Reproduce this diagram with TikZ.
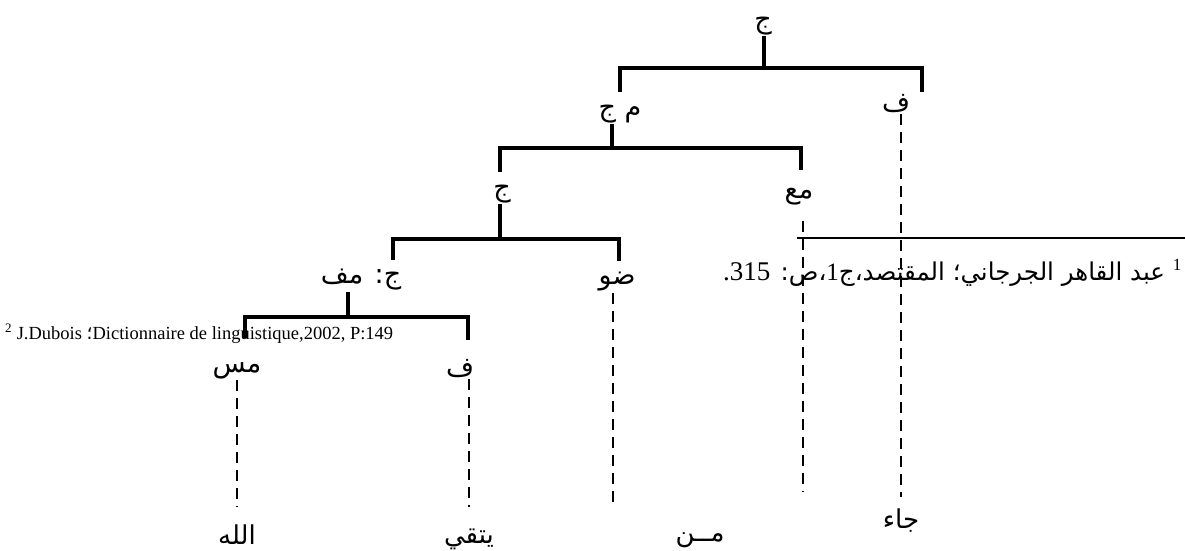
\documentclass[tikz,border=0pt]{standalone}
\usepackage{fontspec}
\setmainfont{Liberation Serif}
\newfontfamily\arabicfont[Script=Arabic]{DejaVu Sans}
\TeXXeTstate=1
\usetikzlibrary{positioning}

\tikzset{
  cat/.style={font=\arabicfont\fontsize{27}{30}\selectfont, inner sep=1pt},
  word/.style={font=\arabicfont\fontsize{26}{28}\selectfont, inner sep=1pt},
  branch/.style={line width=3.2pt},
  trace/.style={line width=2.5pt, dash pattern=on 11pt off 7pt},
}

\begin{document}
\begin{tikzpicture}[x=1pt, y=-1pt]
  \useasboundingbox (0,0) rectangle (1185,551);

  % Define nodes
  \node[cat] (s)    at (763,26)  {\beginR ج\endR};
  \node[cat] (vp)   at (620,114) {\beginR م ج\endR};
  \node[cat] (fa)   at (896,104) {\beginR ف\endR};
  \node[cat] (s2)   at (502,194) {\beginR ج\endR};
  \node[cat] (subj) at (799,197) {\beginR مع\endR};
  \node[cat] (s3)   at (361,280) {\beginR ج: مف\endR};
  \node[cat] (adv)  at (617,282) {\beginR ضو\endR};
  \node[cat] (obj)  at (237,371) {\beginR مس\endR};
  \node[cat] (fa2)  at (460,369) {\beginR ف\endR};

  % Junctions and ends
  \coordinate (j1) at (764,68);
  \coordinate (j2) at (612,148);
  \coordinate (j3) at (500,239);
  \coordinate (j4) at (348,317);
  \coordinate (d1l) at (620,92);  \coordinate (d1r) at (922,92);
  \coordinate (d2l) at (500,172); \coordinate (d2r) at (801,170);
  \coordinate (d3l) at (393,260); \coordinate (d3r) at (619,261);
  \coordinate (d4l) at (245,338); \coordinate (d4r) at (468,340);
  \coordinate (e1) at (237,507);
  \coordinate (e2) at (469,507);
  \coordinate (e3) at (613,507);
  \coordinate (e4) at (803,492);
  \coordinate (e5) at (901,497);

  % Words
  \node[word, below=17pt of e1] (w1) {\beginR الله\endR};
  \node[word, below=21pt of e2] (w2) {\beginR يتقي\endR};
  \node[word] (w3) at (700,540) {\beginR مــن\endR};
  \node[word, below=11pt of e5] (w4) {\beginR جاء\endR};

  % Connect the nodes
  \draw[branch] (s.south -| j1) -- (j1);
  \draw[branch] (d1l) |- (j1) -| (d1r);
  \draw[branch] (vp.south -| j2) -- (j2);
  \draw[branch] (d2l) |- (j2) -| (d2r);
  \draw[branch] (s2.south -| j3) -- (j3);
  \draw[branch] (d3l) |- (j3) -| (d3r);
  \draw[branch] (s3.south -| j4) -- (j4);
  \draw[branch] (d4l) |- (j4) -| (d4r);

  % Traces
  \draw[trace] (obj.south -| e1) -- (e1);
  \draw[trace] (fa2.south -| e2) -- (e2);
  \draw[trace] (adv.south -| e3) -- (e3);
  \draw[trace] ([yshift=-14pt]subj.south -| e4) -- (e4);
  \draw[trace] (fa.south -| e5) -- (e5);

  % Footnotes
  \draw[line width=1.5pt] (797,238) -- (1185,238);
  \node[anchor=base east, inner sep=0pt] (fn1) at (1182,280)
    {\arabicfont\fontsize{24.5}{26}\selectfont\beginR\textsuperscript{\rmfamily\fontsize{17}{18}\selectfont 1} عبد القاهر الجرجاني؛ المقتصد،ج{\rmfamily\fontsize{25}{26}\selectfont 1}،ص: {\rmfamily\fontsize{27}{28}\selectfont 315\kern0pt.}\endR};
  \node[anchor=base west, inner sep=0pt] (fn2) at (5,339)
    {\fontsize{18.5}{20}\selectfont\textsuperscript{2} J.Dubois {\arabicfont ؛}Dictionnaire de linguistique,2002, P:149};

\end{tikzpicture}
\end{document}
